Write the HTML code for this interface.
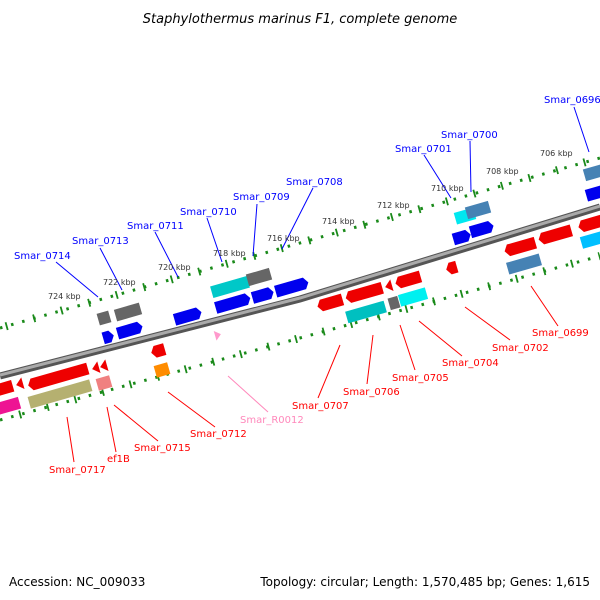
<!DOCTYPE html>
<html><head><meta charset="utf-8"><style>
body{margin:0;background:#fff}
svg{display:block}
text{font-family:"DejaVu Sans","Liberation Sans",sans-serif}
.b{fill:#0000ff;font-size:10px}
.r{fill:#ff0000;font-size:10px}
.k{fill:#333;font-size:8px}
</style></head><body>
<svg width="600" height="600" viewBox="0 0 600 600" xmlns="http://www.w3.org/2000/svg">
<rect width="600" height="600" fill="#fff"/>
<text x="300" y="23" text-anchor="middle" font-size="13" font-style="italic" fill="#000">Staphylothermus marinus F1, complete genome</text>
<!-- tracks -->
<line x1="0" y1="328" x2="600" y2="158" stroke="#1a8a1a" stroke-width="3" stroke-dasharray="2.5 9"/>
<line x1="0" y1="328" x2="600" y2="158" stroke="#1a8a1a" stroke-width="8" stroke-dasharray="1.8 26.8" stroke-dashoffset="-6"/>
<line x1="0" y1="420" x2="600" y2="256" stroke="#1a8a1a" stroke-width="3" stroke-dasharray="2.5 9"/>
<line x1="0" y1="420" x2="600" y2="256" stroke="#1a8a1a" stroke-width="8" stroke-dasharray="1.8 26.8" stroke-dashoffset="-20"/>
<polyline points="0,376 300,299 600,207" fill="none" stroke="#555" stroke-width="7"/>
<polyline points="0,375 300,298 600,206" fill="none" stroke="#aaa" stroke-width="3"/>
<!-- leader lines -->
<g stroke="#0000ff" stroke-width="1">
<line x1="56" y1="262" x2="98" y2="297"/><line x1="100" y1="248" x2="122" y2="290"/>
<line x1="155" y1="232" x2="178" y2="277"/><line x1="207" y1="218" x2="222" y2="262"/>
<line x1="257" y1="204" x2="253" y2="256"/><line x1="313" y1="188" x2="282" y2="249"/>
<line x1="424" y1="155" x2="451" y2="198"/><line x1="470" y1="141" x2="471" y2="192"/>
<line x1="574" y1="107" x2="589" y2="152"/>
</g>
<g stroke="#ff0000" stroke-width="1">
<line x1="67" y1="417" x2="74" y2="462"/><line x1="107" y1="407" x2="116" y2="452"/>
<line x1="114" y1="405" x2="158" y2="441"/><line x1="168" y1="392" x2="215" y2="427"/>
<line x1="340" y1="345" x2="318" y2="398"/><line x1="373" y1="335" x2="367" y2="384"/>
<line x1="400" y1="325" x2="415" y2="370"/><line x1="419" y1="321" x2="462" y2="356"/>
<line x1="465" y1="307" x2="510" y2="340"/><line x1="531" y1="286" x2="558" y2="326"/>
</g>
<line x1="228" y1="376" x2="268" y2="412" stroke="#ff88bb"/>
<!-- genes -->
<g>
<g transform="translate(104,318) rotate(-16)"><rect x="-6" y="-6" width="12" height="12" fill="#666"/></g>
<g transform="translate(128,312) rotate(-16)"><rect x="-13" y="-6" width="26" height="12" fill="#666"/></g>
<g transform="translate(108,337) rotate(-16)"><polygon points="-5,-6 2,-6 6,0 2,6 -5,6" fill="#0000ee"/></g>
<g transform="translate(130,330) rotate(-16)"><polygon points="-13,-6 9,-6 13,0 9,6 -13,6" fill="#0000ee"/></g>
<g transform="translate(188,316) rotate(-16)"><polygon points="-14,-6 10,-6 14,0 10,6 -14,6" fill="#0000ee"/></g>
<g transform="translate(230,287) rotate(-16)"><rect x="-19" y="-6" width="38" height="12" fill="#00c8c8"/></g>
<g transform="translate(259,277) rotate(-16)"><rect x="-12" y="-6" width="24" height="12" fill="#666"/></g>
<g transform="translate(233,303) rotate(-16)"><polygon points="-18,-6 14,-6 18,0 14,6 -18,6" fill="#0000ee"/></g>
<g transform="translate(263,295) rotate(-16)"><polygon points="-11,-6 7,-6 11,0 7,6 -11,6" fill="#0000ee"/></g>
<g transform="translate(292,287) rotate(-16)"><polygon points="-17,-6 13,-6 17,0 13,6 -17,6" fill="#0000ee"/></g>
<g transform="translate(465,216) rotate(-16)"><rect x="-10" y="-6" width="20" height="12" fill="#00e8f0"/></g>
<g transform="translate(478,210) rotate(-16)"><rect x="-12" y="-6" width="24" height="12" fill="#4682b4"/></g>
<g transform="translate(462,237) rotate(-16)"><polygon points="-9,-6 5,-6 9,0 5,6 -9,6" fill="#0000ee"/></g>
<g transform="translate(482,229) rotate(-16)"><polygon points="-12,-6 8,-6 12,0 8,6 -12,6" fill="#0000ee"/></g>
<g transform="translate(596,172) rotate(-16)"><rect x="-12" y="-6" width="24" height="12" fill="#4682b4"/></g>
<g transform="translate(596,193) rotate(-16)"><rect x="-10" y="-6" width="20" height="12" fill="#0000ee"/></g>
<!-- lower -->
<g transform="translate(5,388) rotate(-16)"><polygon points="-10,-6 8,-6 8,6 -10,6" fill="#ee0000"/></g>
<g transform="translate(20,384) rotate(-16)"><polygon points="-4,0 3,-6 3,6" fill="#ee0000"/></g>
<g transform="translate(58,377) rotate(-16)"><polygon points="-31,0 -27,-6 31,-6 31,6 -27,6" fill="#ee0000"/></g>
<g transform="translate(96,368) rotate(-16)"><polygon points="-4,0 3,-6 3,6" fill="#ee0000"/></g>
<g transform="translate(104,366) rotate(-16)"><polygon points="-4,0 3,-6 3,6" fill="#ee0000"/></g>
<g transform="translate(104,383) rotate(-16)"><rect x="-7" y="-6" width="14" height="12" fill="#f08080"/></g>
<g transform="translate(60,394) rotate(-16)"><rect x="-32" y="-6" width="64" height="12" fill="#b5b070"/></g>
<g transform="translate(8,406) rotate(-16)"><rect x="-12" y="-6" width="24" height="12" fill="#ee1493"/></g>
<g transform="translate(158,351) rotate(-16)"><polygon points="-7,0 -3,-6 7,-6 7,6 -3,6" fill="#ee0000"/></g>
<g transform="translate(162,370) rotate(-16)"><rect x="-7" y="-6" width="14" height="12" fill="#ff8c00"/></g>
<g transform="translate(218,335) rotate(-16)"><polygon points="-3,-5 3,0 -3,5" fill="#ff99cc"/></g>
<g transform="translate(330,303) rotate(-16)"><polygon points="-13,0 -9,-6 13,-6 13,6 -9,6" fill="#ee0000"/></g>
<g transform="translate(364,293) rotate(-16)"><polygon points="-19,0 -15,-6 19,-6 19,6 -15,6" fill="#ee0000"/></g>
<g transform="translate(389,286) rotate(-16)"><polygon points="-4,0 3,-6 3,6" fill="#ee0000"/></g>
<g transform="translate(408,280) rotate(-16)"><polygon points="-13,0 -9,-6 13,-6 13,6 -9,6" fill="#ee0000"/></g>
<g transform="translate(366,312) rotate(-16)"><rect x="-20" y="-6" width="40" height="12" fill="#00c0c0"/></g>
<g transform="translate(394,303) rotate(-16)"><rect x="-5" y="-6" width="10" height="12" fill="#666"/></g>
<g transform="translate(413,297) rotate(-16)"><rect x="-14" y="-6" width="28" height="12" fill="#00f0f0"/></g>
<g transform="translate(452,268) rotate(-16)"><polygon points="-6,0 -2,-6 5,-6 5,6 -2,6" fill="#ee0000"/></g>
<g transform="translate(520,247) rotate(-16)"><polygon points="-16,0 -12,-6 16,-6 16,6 -12,6" fill="#ee0000"/></g>
<g transform="translate(555,235) rotate(-16)"><polygon points="-17,0 -13,-6 17,-6 17,6 -13,6" fill="#ee0000"/></g>
<g transform="translate(590,224) rotate(-16)"><polygon points="-12,0 -8,-6 12,-6 12,6 -8,6" fill="#ee0000"/></g>
<g transform="translate(524,264) rotate(-16)"><rect x="-17" y="-6" width="34" height="12" fill="#4682b4"/></g>
<g transform="translate(592,240) rotate(-16)"><rect x="-11" y="-6" width="22" height="12" fill="#00bfff"/></g>
</g>
<!-- labels -->
<text class="b" x="14" y="259">Smar_0714</text>
<text class="b" x="72" y="244">Smar_0713</text>
<text class="b" x="127" y="229">Smar_0711</text>
<text class="b" x="180" y="215">Smar_0710</text>
<text class="b" x="233" y="200">Smar_0709</text>
<text class="b" x="286" y="185">Smar_0708</text>
<text class="b" x="395" y="152">Smar_0701</text>
<text class="b" x="441" y="138">Smar_0700</text>
<text class="b" x="544" y="103">Smar_0696</text>
<text class="k" x="48" y="299">724 kbp</text>
<text class="k" x="103" y="285">722 kbp</text>
<text class="k" x="158" y="270">720 kbp</text>
<text class="k" x="213" y="256">718 kbp</text>
<text class="k" x="267" y="241">716 kbp</text>
<text class="k" x="322" y="224">714 kbp</text>
<text class="k" x="377" y="208">712 kbp</text>
<text class="k" x="431" y="191">710 kbp</text>
<text class="k" x="486" y="174">708 kbp</text>
<text class="k" x="540" y="156">706 kbp</text>
<text class="r" x="49" y="473">Smar_0717</text>
<text class="r" x="107" y="462">ef1B</text>
<text class="r" x="134" y="451">Smar_0715</text>
<text class="r" x="190" y="437">Smar_0712</text>
<text x="240" y="423" font-size="10" fill="#ff88bb">Smar_R0012</text>
<text class="r" x="292" y="409">Smar_0707</text>
<text class="r" x="343" y="395">Smar_0706</text>
<text class="r" x="392" y="381">Smar_0705</text>
<text class="r" x="442" y="366">Smar_0704</text>
<text class="r" x="492" y="351">Smar_0702</text>
<text class="r" x="532" y="336">Smar_0699</text>
<text x="9" y="586" font-size="12" fill="#000">Accession: NC_009033</text>
<text x="590" y="586" font-size="12" fill="#000" text-anchor="end">Topology: circular; Length: 1,570,485 bp; Genes: 1,615</text>
</svg>
</body></html>
